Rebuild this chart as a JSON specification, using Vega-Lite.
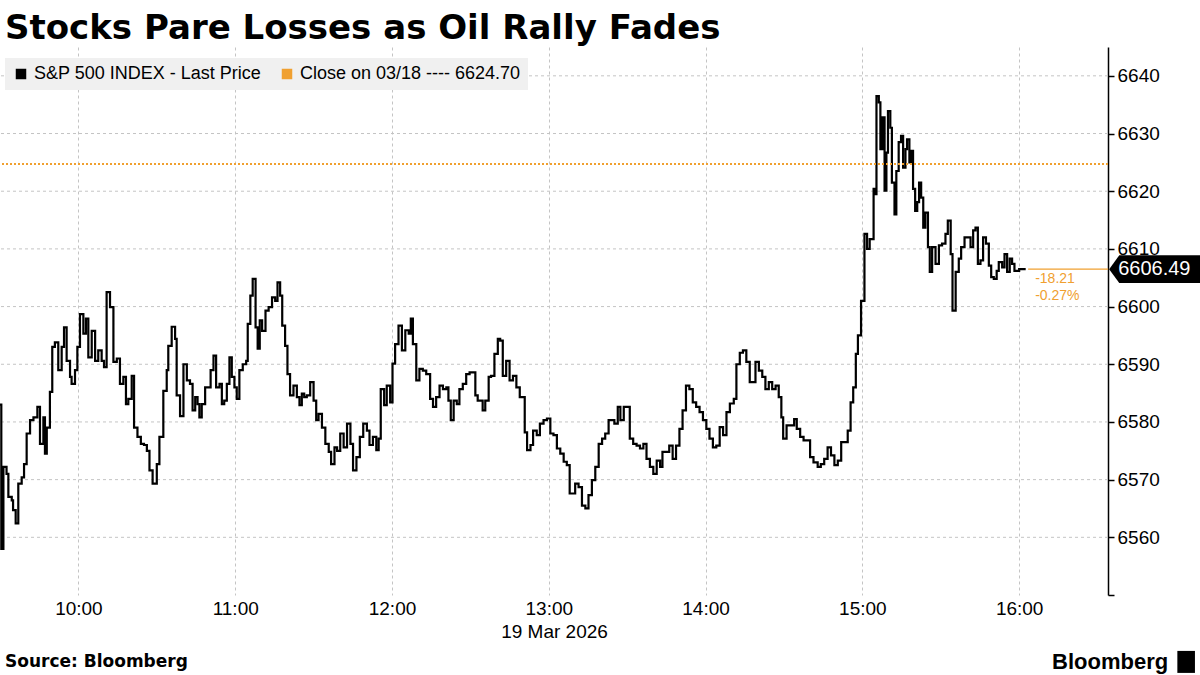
{
  "$schema": "https://vega.github.io/schema/vega-lite/v6.json",
  "width": 1108,
  "height": 548,
  "autosize": "none",
  "padding": {"left": 0, "top": 47, "right": 92, "bottom": 80},
  "background": "white",
  "config": {"view": {"stroke": null}},
  "title": {"text": "Stocks Pare Losses as Oil Rally Fades", "anchor": "start", "frame": "group", "font": "DejaVu Sans", "fontSize": 34, "fontWeight": "bold", "color": "#000000", "offset": 6, "dx": 5, "dy": 5},
  "datasets": {
    "spx": [
      {"t":"2026-03-19T09:30:00","p":6583},{"t":"2026-03-19T09:30:30","p":6558},{"t":"2026-03-19T09:31:18","p":6572.2},{"t":"2026-03-19T09:32:30","p":6571},{"t":"2026-03-19T09:33:12","p":6567},{"t":"2026-03-19T09:34:30","p":6566.4},{"t":"2026-03-19T09:35:00","p":6564.7},{"t":"2026-03-19T09:36:00","p":6562.4},{"t":"2026-03-19T09:37:00","p":6569.3},{"t":"2026-03-19T09:38:18","p":6570.4},{"t":"2026-03-19T09:39:12","p":6572.7},{"t":"2026-03-19T09:40:12","p":6578},{"t":"2026-03-19T09:41:30","p":6580.3},{"t":"2026-03-19T09:42:48","p":6580.8},{"t":"2026-03-19T09:44:18","p":6582.6},{"t":"2026-03-19T09:45:18","p":6576.2},{"t":"2026-03-19T09:46:36","p":6580.8},{"t":"2026-03-19T09:47:12","p":6574.5},{"t":"2026-03-19T09:47:54","p":6579},{"t":"2026-03-19T09:49:06","p":6585.2},{"t":"2026-03-19T09:50:00","p":6593},{"t":"2026-03-19T09:51:00","p":6593.8},{"t":"2026-03-19T09:52:18","p":6589},{"t":"2026-03-19T09:53:36","p":6593},{"t":"2026-03-19T09:54:30","p":6596.4},{"t":"2026-03-19T09:55:30","p":6590.6},{"t":"2026-03-19T09:56:48","p":6587.8},{"t":"2026-03-19T09:57:24","p":6586.6},{"t":"2026-03-19T09:58:42","p":6589},{"t":"2026-03-19T09:59:36","p":6593},
      {"t":"2026-03-19T10:00:36","p":6598.7},{"t":"2026-03-19T10:01:54","p":6595.3},{"t":"2026-03-19T10:02:54","p":6597.9},{"t":"2026-03-19T10:03:48","p":6591.2},{"t":"2026-03-19T10:05:06","p":6595.8},{"t":"2026-03-19T10:06:24","p":6590.6},{"t":"2026-03-19T10:07:36","p":6592.4},{"t":"2026-03-19T10:08:54","p":6590.6},{"t":"2026-03-19T10:09:48","p":6589.5},{"t":"2026-03-19T10:10:48","p":6602.5},{"t":"2026-03-19T10:12:06","p":6599.9},{"t":"2026-03-19T10:13:24","p":6590.4},{"t":"2026-03-19T10:14:42","p":6591},{"t":"2026-03-19T10:15:54","p":6586.6},{"t":"2026-03-19T10:17:12","p":6587.8},{"t":"2026-03-19T10:18:12","p":6583.1},{"t":"2026-03-19T10:19:06","p":6584},{"t":"2026-03-19T10:20:24","p":6588},{"t":"2026-03-19T10:21:18","p":6579},{"t":"2026-03-19T10:22:36","p":6577.4},{"t":"2026-03-19T10:23:54","p":6576.2},{"t":"2026-03-19T10:25:06","p":6576},{"t":"2026-03-19T10:26:12","p":6575},{"t":"2026-03-19T10:27:12","p":6571.6},{"t":"2026-03-19T10:28:24","p":6569.3},{"t":"2026-03-19T10:30:00","p":6572.7},{"t":"2026-03-19T10:31:00","p":6577.4},{"t":"2026-03-19T10:32:30","p":6585.4},{"t":"2026-03-19T10:33:48","p":6589},{"t":"2026-03-19T10:34:24","p":6593.2},{"t":"2026-03-19T10:35:42","p":6596.5},{"t":"2026-03-19T10:37:00","p":6594.4},{"t":"2026-03-19T10:37:36","p":6584.6},{"t":"2026-03-19T10:38:54","p":6581},{"t":"2026-03-19T10:40:12","p":6590},{"t":"2026-03-19T10:41:30","p":6587.2},{"t":"2026-03-19T10:42:42","p":6586.6},{"t":"2026-03-19T10:43:42","p":6582},{"t":"2026-03-19T10:44:42","p":6584.3},{"t":"2026-03-19T10:45:36","p":6583.1},{"t":"2026-03-19T10:46:18","p":6580.8},{"t":"2026-03-19T10:47:12","p":6583.1},{"t":"2026-03-19T10:48:30","p":6586},{"t":"2026-03-19T10:49:42","p":6586},{"t":"2026-03-19T10:50:36","p":6589},{"t":"2026-03-19T10:51:42","p":6591.5},{"t":"2026-03-19T10:52:42","p":6586},{"t":"2026-03-19T10:54:00","p":6586.6},{"t":"2026-03-19T10:54:54","p":6583.1},{"t":"2026-03-19T10:55:48","p":6583.7},{"t":"2026-03-19T10:56:48","p":6586.6},{"t":"2026-03-19T10:57:48","p":6591.2},{"t":"2026-03-19T10:58:42","p":6587.8},{"t":"2026-03-19T10:59:42","p":6586},
      {"t":"2026-03-19T11:00:36","p":6584},{"t":"2026-03-19T11:01:36","p":6589},{"t":"2026-03-19T11:02:54","p":6590},{"t":"2026-03-19T11:04:12","p":6590.6},{"t":"2026-03-19T11:04:48","p":6597},{"t":"2026-03-19T11:05:48","p":6601.9},{"t":"2026-03-19T11:06:42","p":6604.8},{"t":"2026-03-19T11:07:48","p":6596.4},{"t":"2026-03-19T11:08:36","p":6592.7},{"t":"2026-03-19T11:09:24","p":6597.6},{"t":"2026-03-19T11:10:18","p":6595.8},{"t":"2026-03-19T11:11:36","p":6599.3},{"t":"2026-03-19T11:12:48","p":6599.9},{"t":"2026-03-19T11:14:06","p":6601.6},{"t":"2026-03-19T11:15:18","p":6601},{"t":"2026-03-19T11:16:12","p":6604.2},{"t":"2026-03-19T11:17:12","p":6601.9},{"t":"2026-03-19T11:18:00","p":6596.7},{"t":"2026-03-19T11:19:06","p":6593.2},{"t":"2026-03-19T11:20:00","p":6588.3},{"t":"2026-03-19T11:21:00","p":6584.6},{"t":"2026-03-19T11:22:18","p":6586.3},{"t":"2026-03-19T11:23:36","p":6584.3},{"t":"2026-03-19T11:24:36","p":6582.9},{"t":"2026-03-19T11:25:30","p":6584.9},{"t":"2026-03-19T11:26:24","p":6584.3},{"t":"2026-03-19T11:27:24","p":6584.6},{"t":"2026-03-19T11:28:42","p":6586.9},{"t":"2026-03-19T11:30:00","p":6583.7},{"t":"2026-03-19T11:31:00","p":6580.3},{"t":"2026-03-19T11:31:54","p":6581.4},{"t":"2026-03-19T11:33:12","p":6579},{"t":"2026-03-19T11:34:30","p":6576.2},{"t":"2026-03-19T11:35:48","p":6574.8},{"t":"2026-03-19T11:36:42","p":6572.7},{"t":"2026-03-19T11:38:00","p":6575.6},{"t":"2026-03-19T11:39:00","p":6575},{"t":"2026-03-19T11:40:12","p":6578},{"t":"2026-03-19T11:41:30","p":6575.6},{"t":"2026-03-19T11:42:48","p":6579.7},{"t":"2026-03-19T11:44:06","p":6576.2},{"t":"2026-03-19T11:45:06","p":6571.6},{"t":"2026-03-19T11:46:24","p":6573.9},{"t":"2026-03-19T11:47:42","p":6577.4},{"t":"2026-03-19T11:49:00","p":6579.7},{"t":"2026-03-19T11:50:24","p":6578.5},{"t":"2026-03-19T11:51:24","p":6576},{"t":"2026-03-19T11:52:42","p":6577.4},{"t":"2026-03-19T11:54:00","p":6575.1},{"t":"2026-03-19T11:54:54","p":6577.1},{"t":"2026-03-19T11:55:42","p":6585.7},{"t":"2026-03-19T11:57:00","p":6582.9},{"t":"2026-03-19T11:58:00","p":6586.3},{"t":"2026-03-19T11:59:18","p":6583.4},
      {"t":"2026-03-19T12:00:12","p":6590.1},{"t":"2026-03-19T12:01:12","p":6593.5},{"t":"2026-03-19T12:02:30","p":6596.7},{"t":"2026-03-19T12:03:48","p":6592.4},{"t":"2026-03-19T12:05:06","p":6595.9},{"t":"2026-03-19T12:06:24","p":6595.3},{"t":"2026-03-19T12:07:12","p":6597.9},{"t":"2026-03-19T12:08:00","p":6593.5},{"t":"2026-03-19T12:09:18","p":6587.2},{"t":"2026-03-19T12:10:30","p":6589.2},{"t":"2026-03-19T12:11:48","p":6588.9},{"t":"2026-03-19T12:13:06","p":6588.3},{"t":"2026-03-19T12:14:36","p":6584},{"t":"2026-03-19T12:15:42","p":6582.6},{"t":"2026-03-19T12:16:54","p":6584.3},{"t":"2026-03-19T12:18:12","p":6586.3},{"t":"2026-03-19T12:19:30","p":6585.7},{"t":"2026-03-19T12:20:48","p":6586},{"t":"2026-03-19T12:21:36","p":6583.7},{"t":"2026-03-19T12:22:30","p":6580.3},{"t":"2026-03-19T12:23:36","p":6583.7},{"t":"2026-03-19T12:24:48","p":6583.1},{"t":"2026-03-19T12:25:48","p":6585.7},{"t":"2026-03-19T12:27:06","p":6586.6},{"t":"2026-03-19T12:28:24","p":6588.3},{"t":"2026-03-19T12:29:42","p":6588.6},{"t":"2026-03-19T12:31:00","p":6588.6},{"t":"2026-03-19T12:31:54","p":6584.6},{"t":"2026-03-19T12:32:48","p":6583.7},{"t":"2026-03-19T12:33:42","p":6583.7},{"t":"2026-03-19T12:34:42","p":6582},{"t":"2026-03-19T12:35:42","p":6583.7},{"t":"2026-03-19T12:37:00","p":6587.8},{"t":"2026-03-19T12:37:54","p":6588},{"t":"2026-03-19T12:39:12","p":6591.8},{"t":"2026-03-19T12:40:30","p":6594.4},{"t":"2026-03-19T12:41:24","p":6594.1},{"t":"2026-03-19T12:42:24","p":6588},{"t":"2026-03-19T12:43:42","p":6590.6},{"t":"2026-03-19T12:45:00","p":6587.2},{"t":"2026-03-19T12:46:18","p":6588},{"t":"2026-03-19T12:47:36","p":6586},{"t":"2026-03-19T12:48:54","p":6584.3},{"t":"2026-03-19T12:50:06","p":6584.3},{"t":"2026-03-19T12:50:48","p":6578.2},{"t":"2026-03-19T12:51:42","p":6575.1},{"t":"2026-03-19T12:53:00","p":6576},{"t":"2026-03-19T12:54:00","p":6578.5},{"t":"2026-03-19T12:55:24","p":6577.7},{"t":"2026-03-19T12:56:36","p":6579.7},{"t":"2026-03-19T12:58:00","p":6580.3},{"t":"2026-03-19T12:59:18","p":6580.6},
      {"t":"2026-03-19T13:00:36","p":6578},{"t":"2026-03-19T13:01:48","p":6577.7},{"t":"2026-03-19T13:03:06","p":6575.4},{"t":"2026-03-19T13:04:24","p":6574.5},{"t":"2026-03-19T13:05:42","p":6573.1},{"t":"2026-03-19T13:06:54","p":6572.5},{"t":"2026-03-19T13:08:00","p":6567.6},{"t":"2026-03-19T13:09:12","p":6567.6},{"t":"2026-03-19T13:10:06","p":6569.3},{"t":"2026-03-19T13:11:24","p":6568.7},{"t":"2026-03-19T13:12:42","p":6565.5},{"t":"2026-03-19T13:14:00","p":6565},{"t":"2026-03-19T13:15:12","p":6567.3},{"t":"2026-03-19T13:16:30","p":6569.9},{"t":"2026-03-19T13:17:48","p":6572.2},{"t":"2026-03-19T13:19:06","p":6576.2},{"t":"2026-03-19T13:20:24","p":6577.1},{"t":"2026-03-19T13:21:36","p":6578},{"t":"2026-03-19T13:22:54","p":6580.3},{"t":"2026-03-19T13:23:48","p":6580.3},{"t":"2026-03-19T13:25:06","p":6579.7},{"t":"2026-03-19T13:26:24","p":6582.6},{"t":"2026-03-19T13:27:24","p":6580.3},{"t":"2026-03-19T13:28:42","p":6582.6},{"t":"2026-03-19T13:30:00","p":6582.6},{"t":"2026-03-19T13:31:00","p":6577.1},{"t":"2026-03-19T13:32:18","p":6576.2},{"t":"2026-03-19T13:33:36","p":6575.9},{"t":"2026-03-19T13:34:54","p":6575.4},{"t":"2026-03-19T13:36:12","p":6576.2},{"t":"2026-03-19T13:37:24","p":6573.6},{"t":"2026-03-19T13:38:42","p":6572.2},{"t":"2026-03-19T13:40:00","p":6571},{"t":"2026-03-19T13:41:18","p":6573.3},{"t":"2026-03-19T13:42:36","p":6572.2},{"t":"2026-03-19T13:43:30","p":6574.8},{"t":"2026-03-19T13:44:48","p":6574.8},{"t":"2026-03-19T13:46:06","p":6575.9},{"t":"2026-03-19T13:47:24","p":6573.6},{"t":"2026-03-19T13:48:42","p":6575.9},{"t":"2026-03-19T13:50:00","p":6578.8},{"t":"2026-03-19T13:51:12","p":6582},{"t":"2026-03-19T13:52:30","p":6586.3},{"t":"2026-03-19T13:53:48","p":6585.7},{"t":"2026-03-19T13:55:06","p":6583.4},{"t":"2026-03-19T13:56:24","p":6582.6},{"t":"2026-03-19T13:57:42","p":6581.7},{"t":"2026-03-19T13:59:00","p":6580.3},
      {"t":"2026-03-19T14:00:18","p":6578.8},{"t":"2026-03-19T14:01:30","p":6577.1},{"t":"2026-03-19T14:02:48","p":6575.6},{"t":"2026-03-19T14:04:06","p":6575.9},{"t":"2026-03-19T14:05:24","p":6579.1},{"t":"2026-03-19T14:06:42","p":6577.7},{"t":"2026-03-19T14:08:00","p":6581.7},{"t":"2026-03-19T14:09:18","p":6583.2},{"t":"2026-03-19T14:10:48","p":6584},{"t":"2026-03-19T14:11:48","p":6590},{"t":"2026-03-19T14:13:06","p":6592},{"t":"2026-03-19T14:14:18","p":6592.4},{"t":"2026-03-19T14:15:36","p":6590.4},{"t":"2026-03-19T14:16:54","p":6586.9},{"t":"2026-03-19T14:18:12","p":6586.9},{"t":"2026-03-19T14:19:06","p":6590.4},{"t":"2026-03-19T14:20:24","p":6588.9},{"t":"2026-03-19T14:21:42","p":6587.8},{"t":"2026-03-19T14:22:54","p":6585.7},{"t":"2026-03-19T14:24:12","p":6586.9},{"t":"2026-03-19T14:25:30","p":6585.7},{"t":"2026-03-19T14:26:48","p":6586.3},{"t":"2026-03-19T14:28:00","p":6584.3},{"t":"2026-03-19T14:29:00","p":6580.8},{"t":"2026-03-19T14:29:42","p":6577.1},{"t":"2026-03-19T14:31:00","p":6579.4},{"t":"2026-03-19T14:32:36","p":6579.4},{"t":"2026-03-19T14:33:54","p":6580.5},{"t":"2026-03-19T14:34:54","p":6578.8},{"t":"2026-03-19T14:36:12","p":6577.4},{"t":"2026-03-19T14:37:30","p":6576.8},{"t":"2026-03-19T14:38:42","p":6576.8},{"t":"2026-03-19T14:40:00","p":6573.9},{"t":"2026-03-19T14:41:18","p":6573},{"t":"2026-03-19T14:42:54","p":6572.2},{"t":"2026-03-19T14:44:06","p":6572.7},{"t":"2026-03-19T14:45:24","p":6573.6},{"t":"2026-03-19T14:46:42","p":6575.6},{"t":"2026-03-19T14:48:00","p":6574.2},{"t":"2026-03-19T14:49:18","p":6572.5},{"t":"2026-03-19T14:50:36","p":6573.3},{"t":"2026-03-19T14:51:54","p":6576.5},{"t":"2026-03-19T14:53:12","p":6576.5},{"t":"2026-03-19T14:54:24","p":6578.5},{"t":"2026-03-19T14:55:30","p":6583.4},{"t":"2026-03-19T14:56:30","p":6586},{"t":"2026-03-19T14:57:30","p":6591.8},{"t":"2026-03-19T14:58:18","p":6595},{"t":"2026-03-19T14:59:30","p":6601},
      {"t":"2026-03-19T15:00:18","p":6601},{"t":"2026-03-19T15:00:48","p":6612.6},{"t":"2026-03-19T15:01:48","p":6610},{"t":"2026-03-19T15:02:48","p":6611.7},{"t":"2026-03-19T15:03:42","p":6611.7},{"t":"2026-03-19T15:04:18","p":6620.4},{"t":"2026-03-19T15:05:06","p":6619.5},{"t":"2026-03-19T15:05:24","p":6636.5},{"t":"2026-03-19T15:06:18","p":6635.4},{"t":"2026-03-19T15:06:54","p":6627.3},{"t":"2026-03-19T15:07:42","p":6632.8},{"t":"2026-03-19T15:08:30","p":6620.1},{"t":"2026-03-19T15:09:12","p":6626.7},{"t":"2026-03-19T15:09:48","p":6633.9},{"t":"2026-03-19T15:10:42","p":6631},{"t":"2026-03-19T15:11:18","p":6621.5},{"t":"2026-03-19T15:12:18","p":6616},{"t":"2026-03-19T15:13:00","p":6623.5},{"t":"2026-03-19T15:13:54","p":6628.5},{"t":"2026-03-19T15:14:48","p":6629.6},{"t":"2026-03-19T15:15:36","p":6624.1},{"t":"2026-03-19T15:16:30","p":6627.3},{"t":"2026-03-19T15:17:06","p":6629},{"t":"2026-03-19T15:18:00","p":6625},{"t":"2026-03-19T15:18:42","p":6627},{"t":"2026-03-19T15:19:24","p":6620.4},{"t":"2026-03-19T15:20:12","p":6616.6},{"t":"2026-03-19T15:21:00","p":6618.1},{"t":"2026-03-19T15:21:42","p":6621.5},{"t":"2026-03-19T15:22:30","p":6618.9},{"t":"2026-03-19T15:23:18","p":6613.7},{"t":"2026-03-19T15:24:06","p":6616.3},{"t":"2026-03-19T15:25:06","p":6610.3},{"t":"2026-03-19T15:25:48","p":6606},{"t":"2026-03-19T15:26:42","p":6610.3},{"t":"2026-03-19T15:28:00","p":6607.4},{"t":"2026-03-19T15:29:18","p":6610.6},{"t":"2026-03-19T15:30:30","p":6610.9},{"t":"2026-03-19T15:31:48","p":6612.6},{"t":"2026-03-19T15:32:42","p":6614.9},{"t":"2026-03-19T15:33:48","p":6609.1},{"t":"2026-03-19T15:34:30","p":6599.3},{"t":"2026-03-19T15:35:42","p":6606},{"t":"2026-03-19T15:36:54","p":6608.3},{"t":"2026-03-19T15:37:48","p":6610.3},{"t":"2026-03-19T15:39:06","p":6612},{"t":"2026-03-19T15:40:24","p":6612},{"t":"2026-03-19T15:41:24","p":6610.3},{"t":"2026-03-19T15:42:24","p":6613.2},{"t":"2026-03-19T15:43:18","p":6613.7},{"t":"2026-03-19T15:44:12","p":6607.4},{"t":"2026-03-19T15:45:12","p":6608},{"t":"2026-03-19T15:46:12","p":6612},{"t":"2026-03-19T15:47:18","p":6610.9},{"t":"2026-03-19T15:48:24","p":6607.1},{"t":"2026-03-19T15:49:18","p":6605.1},{"t":"2026-03-19T15:50:18","p":6604.8},{"t":"2026-03-19T15:51:24","p":6606.2},{"t":"2026-03-19T15:52:12","p":6607.7},{"t":"2026-03-19T15:53:30","p":6606.8},{"t":"2026-03-19T15:54:24","p":6609.1},{"t":"2026-03-19T15:55:24","p":6606},{"t":"2026-03-19T15:56:24","p":6608.3},{"t":"2026-03-19T15:57:18","p":6607.4},{"t":"2026-03-19T15:58:12","p":6606.2},{"t":"2026-03-19T15:59:12","p":6606.2},{"t":"2026-03-19T16:00:00","p":6606.49},{"t":"2026-03-19T16:02:30","p":6606.49}
    ],
    "last": [{"t":"2026-03-19T16:00:00","p":6606.49,"close":6624.70,"chg":"-18.21","pct":"-0.27%"}],
    "grid": [{"g":6560},{"g":6570},{"g":6580},{"g":6590},{"g":6600},{"g":6610},{"g":6620},{"g":6630},{"g":6640}],
    "series": [{"s":"S&P 500 INDEX - Last Price"},{"s":"Close on 03/18 ---- 6624.70"}],
    "footer": [{"t":"2026-03-19T09:30:00","label":"Source: Bloomberg"}],
    "brand": [{"t":"2026-03-19T16:00:00","label":"Bloomberg"}]
  },
  "layer": [
    {
      "data": {"name": "grid"},
      "mark": {"type": "rule", "color": "#c4c4c4", "strokeDash": [3, 3], "strokeWidth": 1},
      "encoding": {"y": {"field": "g", "type": "quantitative"}}
    },
    {
      "data": {"name": "spx"},
      "mark": {"type": "line", "interpolate": "step-after", "strokeWidth": 2.2, "color": "#000000", "clip": true},
      "encoding": {
        "x": {"field": "t", "type": "temporal",
          "scale": {"domain": ["2026-03-19T09:30:00", "2026-03-19T16:34:00"]},
          "axis": {"format": "%H:%M", "tickCount": 7, "grid": true, "gridColor": "#c4c4c4", "gridDash": [3, 3], "domain": false, "ticks": false, "labelFont": "Liberation Sans", "labelFontSize": 19, "labelColor": "#000000", "labelPadding": 4, "labelFlush": false, "title": "19 Mar 2026", "titleFont": "Liberation Sans", "titleFontSize": 19, "titleFontWeight": "normal", "titleColor": "#000000", "titlePadding": 4}},
        "y": {"field": "p", "type": "quantitative",
          "scale": {"domain": [6550, 6645], "nice": false, "zero": false},
          "axis": {"orient": "right", "title": null, "values": [6550, 6555, 6560, 6565, 6570, 6575, 6580, 6585, 6590, 6595, 6600, 6605, 6610, 6615, 6620, 6625, 6630, 6635, 6640, 6645], "format": "d", "labelExpr": "(datum.value % 10 === 0 && datum.value >= 6560 && datum.value <= 6640) ? datum.label : ''", "labelOverlap": false, "labelFont": "Liberation Sans", "labelFontSize": 19, "labelColor": "#000000", "labelPadding": 3, "domainColor": "#000000", "domainWidth": 1.5, "tickColor": "#000000", "tickSize": 6, "tickWidth": 1.5, "grid": false}}
      }
    },
    {
      "data": {"name": "last"},
      "mark": {"type": "rule", "color": "#f0a030", "strokeDash": [2, 2], "strokeWidth": 2},
      "encoding": {"y": {"field": "close", "type": "quantitative"}}
    },
    {
      "data": {"name": "series"},
      "mark": {"type": "square", "size": 0, "opacity": 1},
      "encoding": {
        "fill": {"field": "s", "type": "nominal",
          "scale": {"domain": ["S&P 500 INDEX - Last Price", "Close on 03/18 ---- 6624.70"], "range": ["#000000", "#f0a030"]},
          "legend": {"orient": "none", "legendX": 5, "legendY": 11, "direction": "horizontal", "title": null, "fillColor": "#f0f0f0", "padding": 7, "symbolType": "square", "symbolSize": 110, "symbolStrokeWidth": 0, "labelFont": "Liberation Sans", "labelFontSize": 18, "labelColor": "#000000", "labelOffset": 4, "labelLimit": 500, "columnPadding": 16}}
      }
    },
    {
      "data": {"name": "last"},
      "mark": {"type": "point", "filled": false, "shape": "M-1,0L1,0", "size": 6400, "stroke": "#f0a030", "strokeWidth": 1.3, "opacity": 1, "xOffset": 49, "clip": false},
      "encoding": {
        "x": {"field": "t", "type": "temporal"},
        "y": {"field": "p", "type": "quantitative"}
      }
    },
    {
      "data": {"name": "last"},
      "mark": {"type": "text", "color": "#f0a030", "font": "Liberation Sans", "fontSize": 14, "align": "left", "baseline": "middle", "dx": 16, "dy": 10, "clip": false},
      "encoding": {
        "x": {"field": "t", "type": "temporal"},
        "y": {"field": "p", "type": "quantitative"},
        "text": {"field": "chg"}
      }
    },
    {
      "data": {"name": "last"},
      "mark": {"type": "text", "color": "#f0a030", "font": "Liberation Sans", "fontSize": 14, "align": "left", "baseline": "middle", "dx": 16, "dy": 27, "clip": false},
      "encoding": {
        "x": {"field": "t", "type": "temporal"},
        "y": {"field": "p", "type": "quantitative"},
        "text": {"field": "pct"}
      }
    },
    {
      "data": {"name": "last"},
      "mark": {"type": "point", "filled": true, "shape": "M-1,0L-0.78,-0.3L1,-0.3L1,0.3L-0.78,0.3Z", "size": 8464, "color": "#000000", "opacity": 1, "strokeWidth": 0, "xOffset": 136, "clip": false},
      "encoding": {
        "x": {"field": "t", "type": "temporal"},
        "y": {"field": "p", "type": "quantitative"}
      }
    },
    {
      "data": {"name": "last"},
      "mark": {"type": "text", "color": "#ffffff", "font": "Liberation Sans", "fontSize": 20, "align": "left", "baseline": "middle", "dx": 99, "clip": false},
      "encoding": {
        "x": {"field": "t", "type": "temporal"},
        "y": {"field": "p", "type": "quantitative"},
        "text": {"field": "p", "type": "quantitative", "format": ".2f"}
      }
    },
    {
      "data": {"name": "footer"},
      "mark": {"type": "text", "color": "#000000", "font": "DejaVu Sans", "fontSize": 17, "fontWeight": "bold", "align": "left", "baseline": "middle", "dx": 5, "clip": false},
      "encoding": {
        "x": {"field": "t", "type": "temporal"},
        "y": {"datum": 6538.4, "type": "quantitative"},
        "text": {"field": "label"}
      }
    },
    {
      "data": {"name": "brand"},
      "mark": {"type": "text", "color": "#000000", "font": "Liberation Sans", "fontSize": 22, "fontWeight": "bold", "align": "right", "baseline": "middle", "dx": 149, "clip": false},
      "encoding": {
        "x": {"field": "t", "type": "temporal"},
        "y": {"datum": 6538.4, "type": "quantitative"},
        "text": {"field": "label"}
      }
    },
    {
      "data": {"name": "brand"},
      "mark": {"type": "point", "filled": true, "shape": "M-0.8,-1L0.8,-1L0.8,1L-0.8,1Z", "size": 484, "color": "#000000", "opacity": 1, "strokeWidth": 0, "xOffset": 167, "clip": false},
      "encoding": {
        "x": {"field": "t", "type": "temporal"},
        "y": {"datum": 6538.4, "type": "quantitative"}
      }
    }
  ]
}
